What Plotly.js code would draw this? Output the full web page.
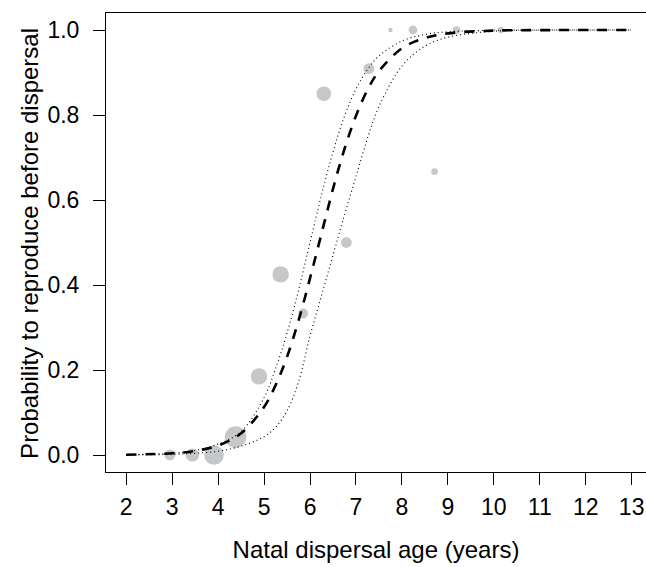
<!DOCTYPE html>
<html><head><meta charset="utf-8">
<script src="https://cdn.plot.ly/plotly-3.0.1.min.js"></script>
<style>html,body{margin:0;padding:0;background:#fff}</style>
</head><body>
<div id="chart" style="width:646px;height:567px"></div>
<script>
// Observed proportions (binned natal dispersal ages)
const ageObs = [2.95, 3.44, 3.91, 4.38, 4.89, 5.36, 5.85, 6.30, 6.79, 7.28, 7.75, 8.24, 8.71, 9.19, 10.15];
const propObs = [0, 0, 0, 0.042, 0.185, 0.425, 0.333, 0.85, 0.5, 0.909, 1, 1, 0.667, 1, 1];
const sampleSize = [6, 9, 20, 24, 14, 14, 5, 11, 6, 6, 1, 4, 2.3, 3, 2];

// Fitted curve and confidence band
const curveAge = [2, 3, 3.5, 4, 4.5, 5, 5.25, 5.5, 5.75, 6, 6.25, 6.5, 6.75, 7, 7.25, 7.5, 8, 8.5, 9, 10, 11, 13];
const fitProb = [0.0007, 0.0041, 0.0095, 0.0223, 0.051, 0.113, 0.164, 0.231, 0.316, 0.416, 0.521, 0.626, 0.720, 0.798, 0.859, 0.903, 0.957, 0.981, 0.992, 0.9986, 0.9997, 1.0];
const upperProb = [0.0007, 0.0042, 0.0105, 0.0256, 0.055, 0.135, 0.203, 0.287, 0.388, 0.5, 0.612, 0.713, 0.797, 0.861, 0.907, 0.939, 0.974, 0.9895, 0.9958, 0.9993, 0.9999, 1.0];
const lowerProb = [0.0002, 0.0015, 0.004, 0.009, 0.021, 0.043, 0.065, 0.104, 0.172, 0.28, 0.375, 0.47, 0.565, 0.655, 0.745, 0.82, 0.915, 0.962, 0.983, 0.997, 0.9996, 1.0];

const xTicks = [2, 3, 4, 5, 6, 7, 8, 9, 10, 11, 12, 13];
const yTicks = [0, 0.2, 0.4, 0.6, 0.8, 1.0];
const yTickLabels = ['0.0', '0.2', '0.4', '0.6', '0.8', '1.0'];
const xTitle = 'Natal dispersal age (years)';
const yTitle = 'Probability to reproduce before dispersal';

const FONT = 'Liberation Sans, Arial, Helvetica, sans-serif';

const traces = [
  {
    x: ageObs, y: propObs, type: 'scatter', mode: 'markers',
    marker: {color: '#adafb1', size: sampleSize.map(n => 4.4 * Math.sqrt(n)), line: {width: 0}},
    hoverinfo: 'x+y', showlegend: false
  },
  {
    x: curveAge, y: upperProb, type: 'scatter', mode: 'lines',
    line: {color: '#000', width: 1.1, dash: '1px,3px', shape: 'spline', smoothing: 1},
    showlegend: false
  },
  {
    x: curveAge, y: lowerProb, type: 'scatter', mode: 'lines',
    line: {color: '#000', width: 1.1, dash: '1px,3px', shape: 'spline', smoothing: 1},
    showlegend: false
  },
  {
    x: curveAge, y: fitProb, type: 'scatter', mode: 'lines',
    line: {color: '#000', width: 2.6, dash: '10px,9px', shape: 'spline', smoothing: 1},
    showlegend: false
  }
];

const layout = {
  width: 646, height: 567,
  margin: {l: 106, r: 0, t: 13, b: 95, pad: 0},
  paper_bgcolor: '#fff', plot_bgcolor: '#fff',
  font: {family: FONT, color: '#000', size: 23},
  showlegend: false,
  xaxis: {
    range: [1.56, 1.56 + 540 / 45.95],
    tickvals: xTicks, ticktext: xTicks.map(String),
    ticks: 'outside', ticklen: 12, tickwidth: 1, tickcolor: '#000',
    showline: true, linecolor: '#000', linewidth: 1, mirror: true,
    showgrid: false, zeroline: false,
    tickfont: {size: 23, family: FONT},
    ticklabelstandoff: 2,
    title: {text: xTitle, font: {size: 24, family: FONT}, standoff: 22}
  },
  yaxis: {
    range: [-0.04, 1.04],
    tickvals: yTicks, ticktext: yTickLabels,
    ticks: 'outside', ticklen: 12, tickwidth: 1, tickcolor: '#000',
    showline: true, linecolor: '#000', linewidth: 1, mirror: false,
    showgrid: false, zeroline: false,
    tickfont: {size: 23, family: FONT},
    ticklabelstandoff: 9
  },
  annotations: [{
    text: yTitle, textangle: -90, showarrow: false,
    xref: 'paper', yref: 'paper', x: (30 - 106) / 540, y: 0.497,
    xanchor: 'center', yanchor: 'middle',
    font: {size: 24, family: FONT, color: '#000'}
  }]
};

Plotly.newPlot('chart', traces, layout, {displayModeBar: false, staticPlot: true});
</script>
</body></html>
